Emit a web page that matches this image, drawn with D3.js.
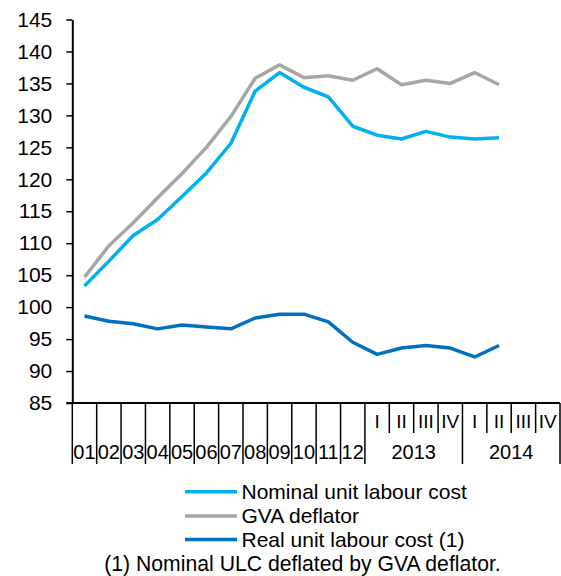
<!DOCTYPE html>
<html>
<head>
<meta charset="utf-8">
<script src="https://cdn.jsdelivr.net/npm/d3@7"></script>
<style>
  body { margin: 0; background: #fff; }
  text { font-family: "Liberation Sans", Arial, sans-serif; fill: #000; }
</style>
</head>
<body>
<svg width="561" height="576"></svg>
<script>
// categories
let months = ["01","02","03","04","05","06","07","08","09","10","11","12"];
let quarterYears = ["2013","2014"];
let quarters = ["I","II","III","IV"];
let yTicks = [85, 90, 95, 100, 105, 110, 115, 120, 125, 130, 135, 140, 145];

// series values
let nominalULC = [103.3, 107.2, 111.2, 113.7, 117.3, 121.0, 125.6, 133.8, 136.7, 134.4, 132.9, 128.3,
                  126.9, 126.3, 127.5, 126.6, 126.3, 126.5];
let gvaDeflator = [104.7, 109.6, 113.2, 117.1, 120.9, 125.0, 129.8, 135.8, 137.9, 135.9, 136.2, 135.5,
                   137.3, 134.8, 135.5, 135.0, 136.7, 134.8];
let realULC = [98.6, 97.8, 97.4, 96.6, 97.2, 96.9, 96.6, 98.3, 98.9, 98.9, 97.7, 94.5,
               92.6, 93.6, 94.0, 93.6, 92.2, 94.0];

let seriesNames = ["Nominal unit labour cost", "GVA deflator", "Real unit labour cost (1)"];
let colors = ["#00b0f0", "#a6a6a6", "#0070c0"];
let footnote = "(1) Nominal ULC deflated by GVA deflator.";

// build the full list of category slots
let slots = months.map(m => ({key: m, label: m, group: null}));
quarterYears.forEach(yr => quarters.forEach(q => slots.push({key: yr + "-" + q, label: q, group: yr})));

let svg = d3.select("svg");
let plotLeft = 72.3, plotRight = 560, plotTop = 19.5, plotBottom = 403;

let x = d3.scaleBand().domain(slots.map(s => s.key)).range([plotLeft, plotRight]).padding(0);
let y = d3.scaleLinear().domain([85, 145]).range([plotBottom, plotTop]);

// y axis
let yAxis = svg.append("g")
    .attr("transform", "translate(" + plotLeft + ",0)")
    .call(d3.axisLeft(y).tickValues(yTicks).tickSize(6).tickPadding(14).tickSizeOuter(0));
yAxis.select(".domain").attr("stroke", "#000").attr("stroke-width", 2);
yAxis.selectAll(".tick line").attr("stroke", "#000").attr("stroke-width", 1.5);
yAxis.selectAll("text").style("font-size", "21px").attr("fill", "#000");

// x baseline, from the left tick to the right edge
svg.append("line")
    .attr("x1", plotLeft - 6).attr("x2", plotRight)
    .attr("y1", y(85)).attr("y2", y(85))
    .attr("stroke", "#000").attr("stroke-width", 2);

// separators under the axis
let bounds = d3.range(slots.length + 1);
svg.append("g").selectAll("line")
    .data(bounds)
    .join("line")
    .attr("x1", i => plotLeft + i * x.bandwidth())
    .attr("x2", i => plotLeft + i * x.bandwidth())
    .attr("y1", y(85))
    .attr("y2", i => (i > months.length && (i - months.length) % quarters.length !== 0) ? 433 : 464)
    .attr("stroke", "#000").attr("stroke-width", 1.5);

// month labels and quarter labels
svg.append("g").selectAll("text")
    .data(slots)
    .join("text")
    .attr("x", s => x(s.key) + x.bandwidth() / 2)
    .attr("y", s => s.group ? 421 : 452)
    .attr("dy", "0.35em")
    .attr("text-anchor", "middle")
    .style("font-size", s => s.group ? "19px" : "20px")
    .text(s => s.label);

// year group labels
svg.append("g").selectAll("text")
    .data(quarterYears)
    .join("text")
    .attr("x", g => {
        let first = x(g + "-" + quarters[0]);
        return first + x.bandwidth() * quarters.length / 2;
    })
    .attr("y", 452)
    .attr("dy", "0.35em")
    .attr("text-anchor", "middle")
    .style("font-size", "20px")
    .text(g => g);

// lines
let line = d3.line()
    .x((d, i) => x(slots[i].key) + x.bandwidth() / 2)
    .y(d => y(d));

[nominalULC, gvaDeflator, realULC].forEach((s, k) => {
    svg.append("path")
        .datum(s)
        .attr("fill", "none")
        .attr("stroke", colors[k])
        .attr("stroke-width", 3.5)
        .attr("stroke-linejoin", "round")
        .attr("d", line);
});

// legend
let legend = svg.append("g");
let legendY = [491.7, 516, 539.5];
seriesNames.forEach((name, k) => {
    legend.append("line")
        .attr("x1", 185).attr("x2", 237)
        .attr("y1", legendY[k]).attr("y2", legendY[k])
        .attr("stroke", colors[k]).attr("stroke-width", 3.5);
    legend.append("text")
        .attr("x", 241.5).attr("y", legendY[k])
        .attr("dy", "0.35em")
        .style("font-size", "21px")
        .text(name);
});

svg.append("text")
    .attr("x", 302.5).attr("y", 563.5)
    .attr("dy", "0.35em")
    .attr("text-anchor", "middle")
    .style("font-size", "21.2px")
    .text(footnote);
</script>
</body>
</html>
